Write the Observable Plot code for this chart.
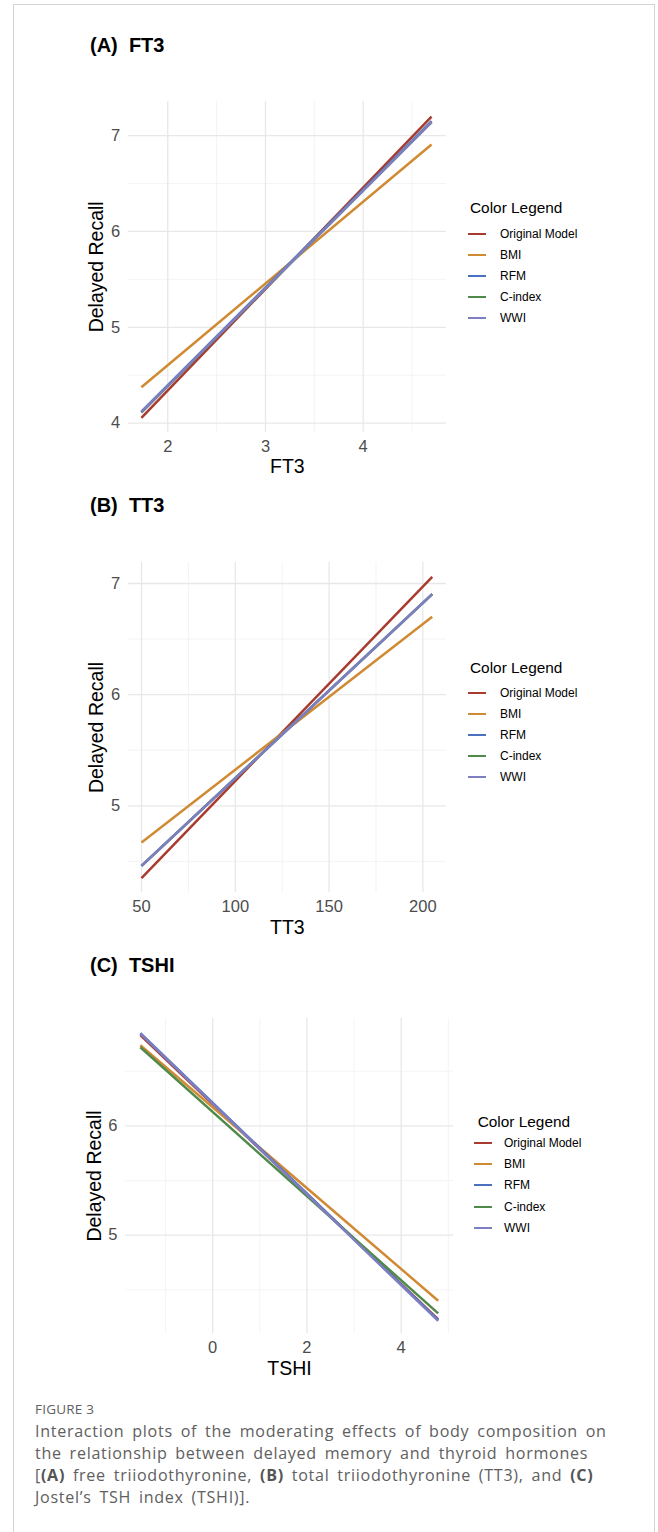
<!DOCTYPE html>
<html><head><meta charset="utf-8">
<script src="https://cdn.jsdelivr.net/npm/d3@7"></script>
<script src="https://cdn.jsdelivr.net/npm/@observablehq/plot@0.6"></script>
<style>
html,body{margin:0;padding:0;background:#fff}
body{width:658px;height:1532px;position:relative;overflow:hidden;font-family:"Liberation Sans",Arial,Helvetica,sans-serif}
#frame{position:absolute;left:13px;top:4px;width:642px;height:1600px;border:1px solid #d4d4d4;box-sizing:border-box}
.ptitle{position:absolute;font-weight:bold;font-size:20px;line-height:20px;color:#000;white-space:pre;transform:translateY(-50%)}
.panel{position:absolute;left:0}
.ltitle{position:absolute;font-size:15.4px;line-height:16px;color:#000;transform:translateY(-50%);white-space:nowrap}
.litem{position:absolute;font-size:12px;line-height:12px;color:#000;transform:translateY(-50%);white-space:nowrap}
.lline{position:absolute;height:2px}
#cap{position:absolute;left:35px;top:1398px;font-family:"Open Sans",Lato,sans-serif;color:#606060;white-space:nowrap}
#cap .fig{font-size:13.5px;line-height:22px;letter-spacing:0.2px}
#cap .txt{font-size:16.1px;line-height:22px;letter-spacing:0.7px;word-spacing:3px}
#cap b{font-weight:bold;color:#555}
</style></head>
<body>
<div id="frame"></div>
<div id="root"></div>
<div id="cap"></div>
<script>
// ---- data ----
const series = ["Original Model", "BMI", "RFM", "C-index", "WWI"];
const seriesColors = ["#a83a2e", "#d08a33", "#4a70c0", "#4f8a4a", "#7e7fc2"];

const ft3X = [1.73, 4.70];
const ft3Start = [4.056, 4.375, 4.12, 4.11, 4.115];
const ft3End = [7.198, 6.906, 7.15, 7.14, 7.139];

const tt3X = [50, 205];
const tt3Start = [4.35, 4.67, 4.46, 4.46, 4.46];
const tt3End = [7.06, 6.70, 6.905, 6.905, 6.905];

const tshiX = [-1.535, 4.785];
const tshiStart = [6.83, 6.738, 6.85, 6.72, 6.845];
const tshiEnd = [4.23, 4.40, 4.222, 4.284, 4.215];

const ft3TicksX = [2, 3, 4], ft3MinorX = [2.5, 3.5, 4.5];
const ft3TicksY = [4, 5, 6, 7], ft3MinorY = [4.5, 5.5, 6.5];
const tt3TicksX = [50, 100, 150, 200], tt3MinorX = [75, 125, 175];
const tt3TicksY = [5, 6, 7], tt3MinorY = [4.5, 5.5, 6.5];
const tshiTicksX = [0, 2, 4], tshiMinorX = [-1, 1, 3, 5];
const tshiTicksY = [5, 6], tshiMinorY = [4.5, 5.5, 6.5];

const panelTitles = ["(A)  FT3", "(B)  TT3", "(C)  TSHI"];
const xLabels = ["FT3", "TT3", "TSHI"];
const yLabel = "Delayed Recall";
const legendTitle = "Color Legend";
const captionHead = "FIGURE 3";
const captionLines = [
  "Interaction plots of the moderating effects of body composition on",
  "the relationship between delayed memory and thyroid hormones",
  "[<b>(A)</b> free triiodothyronine, <b>(B)</b> total triiodothyronine (TT3), and <b>(C)</b>",
  "Jostel\u2019s TSH index (TSHI)]."
];

// ---- layout ----
const panels = [
  {title: panelTitles[0], titleY: 45, top: 81, plotH: 330.7, ml: 127.7, mr: 14, xDomain: [1.595, 4.853], yDomain: [3.906, 7.355],
   xs: ft3X, s: ft3Start, e: ft3End, tx: ft3TicksX, mx: ft3MinorX, ty: ft3TicksY, my: ft3MinorY, xl: xLabels[0],
   leg: {x: 470, y: 208, lx: 468, tx: 500, y0: 234, step: 21}},
  {title: panelTitles[1], titleY: 505, top: 541.7, plotH: 330, ml: 127.7, mr: 14, xDomain: [42.9, 212.6], yDomain: [4.22, 7.189],
   xs: tt3X, s: tt3Start, e: tt3End, tx: tt3TicksX, mx: tt3MinorX, ty: tt3TicksY, my: tt3MinorY, xl: xLabels[1],
   leg: {x: 470, y: 668, lx: 468, tx: 500, y0: 693, step: 21}},
  {title: panelTitles[2], titleY: 965, top: 998.3, plotH: 315, ml: 125, mr: 7, xDomain: [-1.85, 5.11], yDomain: [4.10, 6.983],
   xs: tshiX, s: tshiStart, e: tshiEnd, tx: tshiTicksX, mx: tshiMinorX, ty: tshiTicksY, my: tshiMinorY, xl: xLabels[2],
   leg: {x: 477.7, y: 1121.7, lx: 474, tx: 504, y0: 1143, step: 21.2}}
];

const root = document.getElementById("root");
const font = '"Liberation Sans", Arial, Helvetica, sans-serif';
const fmt = d => String(d);

for (const p of panels) {
  const t = document.createElement("div");
  t.className = "ptitle"; t.textContent = p.title;
  t.style.left = "90px"; t.style.top = p.titleY + "px";
  root.appendChild(t);

  const rows = [];
  series.forEach((name, i) => {
    rows.push({series: name, x: p.xs[0], y: p.s[i]});
    rows.push({series: name, x: p.xs[1], y: p.e[i]});
  });

  const mb = 50;
  const chart = Plot.plot({
    width: 460, height: 20 + p.plotH + mb,
    marginLeft: p.ml, marginRight: p.mr, marginTop: 20, marginBottom: mb,
    style: {fontFamily: font, fontSize: "16px", color: "#4d4d4d", background: "transparent"},
    x: {domain: p.xDomain},
    y: {domain: p.yDomain},
    color: {domain: series, range: seriesColors},
    marks: [
      Plot.ruleX(p.mx, {stroke: "#efefef", strokeWidth: 0.7}),
      Plot.ruleY(p.my, {stroke: "#efefef", strokeWidth: 0.7}),
      Plot.ruleX(p.tx, {stroke: "#e8e8e8", strokeWidth: 1.3}),
      Plot.ruleY(p.ty, {stroke: "#e8e8e8", strokeWidth: 1.3}),
      Plot.axisX({ticks: p.tx, tickSize: 0, tickPadding: 8, tickFormat: fmt, label: null, fill: "#4d4d4d", fontSize: 16.5}),
      Plot.axisY({ticks: p.ty, tickSize: 0, tickPadding: 8, tickFormat: fmt, label: null, fill: "#4d4d4d", fontSize: 16.5}),
      Plot.text([p.xl], {text: d => d, frameAnchor: "bottom", dy: 35, lineAnchor: "middle", fill: "#000", fontSize: 19.5}),
      Plot.text([yLabel], {text: d => d, frameAnchor: "left", dx: -31, rotate: -90, lineAnchor: "middle", textAnchor: "middle", fill: "#000", fontSize: 19.5}),
      Plot.line(rows, {x: "x", y: "y", z: "series", stroke: "series", strokeWidth: 2.5, strokeLinecap: "butt"})
    ]
  });
  chart.classList.add("panel");
  chart.style.top = p.top + "px";
  root.appendChild(chart);

  const lt = document.createElement("div");
  lt.className = "ltitle"; lt.textContent = legendTitle;
  lt.style.left = p.leg.x + "px"; lt.style.top = p.leg.y + "px";
  root.appendChild(lt);
  series.forEach((name, i) => {
    const y = p.leg.y0 + i * p.leg.step;
    const ln = document.createElement("div");
    ln.className = "lline"; ln.style.background = seriesColors[i];
    ln.style.left = p.leg.lx + "px"; ln.style.width = "18px"; ln.style.top = Math.round(y - 1) + "px";
    root.appendChild(ln);
    const tx = document.createElement("div");
    tx.className = "litem"; tx.textContent = name;
    tx.style.left = p.leg.tx + "px"; tx.style.top = y + "px";
    root.appendChild(tx);
  });
}

document.getElementById("cap").innerHTML =
  '<div class="fig">' + captionHead + '</div>' +
  captionLines.map(l => '<div class="txt">' + l + '</div>').join("");
</script>
</body></html>
